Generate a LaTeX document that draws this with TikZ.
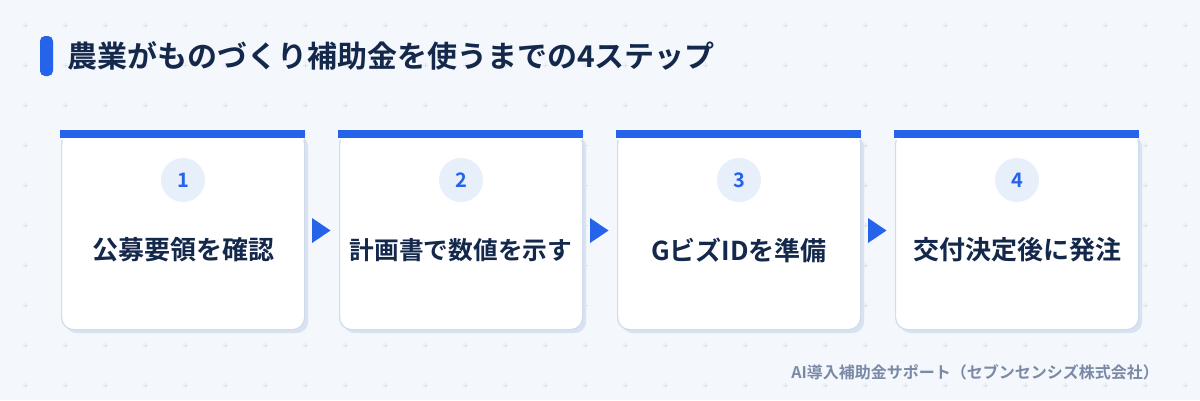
\documentclass[tikz,border=0pt]{standalone}
\usepackage{fontspec}
\newfontfamily\jpb{Noto Sans CJK JP Bold}
\usetikzlibrary{shapes.geometric}
\definecolor{bg}{HTML}{F4F7FC}
\definecolor{plus}{HTML}{DCE4F0}
\definecolor{navy}{HTML}{14284B}
\definecolor{blue}{HTML}{2563EB}
\definecolor{cardline}{HTML}{D0DCEC}
\definecolor{shadow}{HTML}{D8E2F0}
\definecolor{circ}{HTML}{E7EFFB}
\definecolor{foot}{HTML}{7A8AA6}
\tikzset{
  card/.style={draw=cardline, line width=1.2pt, fill=white, rounded corners=12pt, minimum width=243pt, minimum height=198pt, anchor=north west, inner sep=0pt},
  cardshadow/.style={fill=shadow, rounded corners=12pt, minimum width=243pt, minimum height=198pt, anchor=north west, inner sep=0pt, draw=none},
  numcirc/.style={circle, fill=circ, minimum size=44pt, inner sep=0pt, font=\jpb\fontsize{20}{20}\selectfont, text=blue},
  steptext/.style={font=\jpb\fontsize{26}{26}\selectfont, text=navy},
  arrowtri/.style={fill=blue},
}
\begin{document}
\begin{tikzpicture}[x=1pt,y=-1pt]
\fill[bg] (0,0) rectangle (1200,400);
\useasboundingbox (0,0) rectangle (1200,400);
% plus grid
\foreach \i in {0,...,29}{
  \foreach \j in {0,...,9}{
    \pgfmathsetmacro\xx{25+40*\i}
    \pgfmathsetmacro\yy{25+40*\j}
    \draw[plus, line width=0.8pt] (\xx-2.5,\yy) -- (\xx+2.5,\yy) (\xx,\yy-2.5) -- (\xx,\yy+2.5);
  }
}
% title
\fill[blue, rounded corners=5pt] (40,36) rectangle (53,76);
\node[anchor=west, inner sep=0pt, font=\jpb\fontsize{30}{30}\selectfont, text=navy] (title) at (67,56) {農業がものづくり補助金を使うまでの4ステップ};
% cards
\foreach \k/\lab/\fs in {1/公募要領を確認/26,2/計画書で数値を示す/24.7,3/GビズIDを準備/26,4/交付決定後に発注/26}{
  \pgfmathsetmacro\cx{61+278*(\k-1)}
  \node[cardshadow] (sh\k) at (\cx+4,135) {};
  \node[card] (card\k) at (\cx,131) {};
  \fill[blue, rounded corners=4pt] (\cx-1,130) rectangle (\cx+244,139);
  \fill[white] (\cx,136) rectangle (\cx+243,139.5);
  \fill[blue] (\cx-1,130) rectangle (\cx+244,137.5);
  \node[numcirc] (num\k) at (\cx+122,180) {\k};
  \node[steptext, font=\jpb\fontsize{\fs}{\fs}\selectfont] (txt\k) at (\cx+122,250) {\lab};
}
\foreach \k in {1,2,3}{
  \pgfmathsetmacro\ax{312+278*(\k-1)}
  \fill[arrowtri] (\ax,218) -- (\ax+18.5,230.5) -- (\ax,243) -- cycle;
}
\node[anchor=east, inner sep=0pt, font=\jpb\fontsize{16}{16}\selectfont, text=foot] (footer) at (1159,372) {AI導入補助金サポート（セブンセンシズ株式会社）};
\end{tikzpicture}
\end{document}
